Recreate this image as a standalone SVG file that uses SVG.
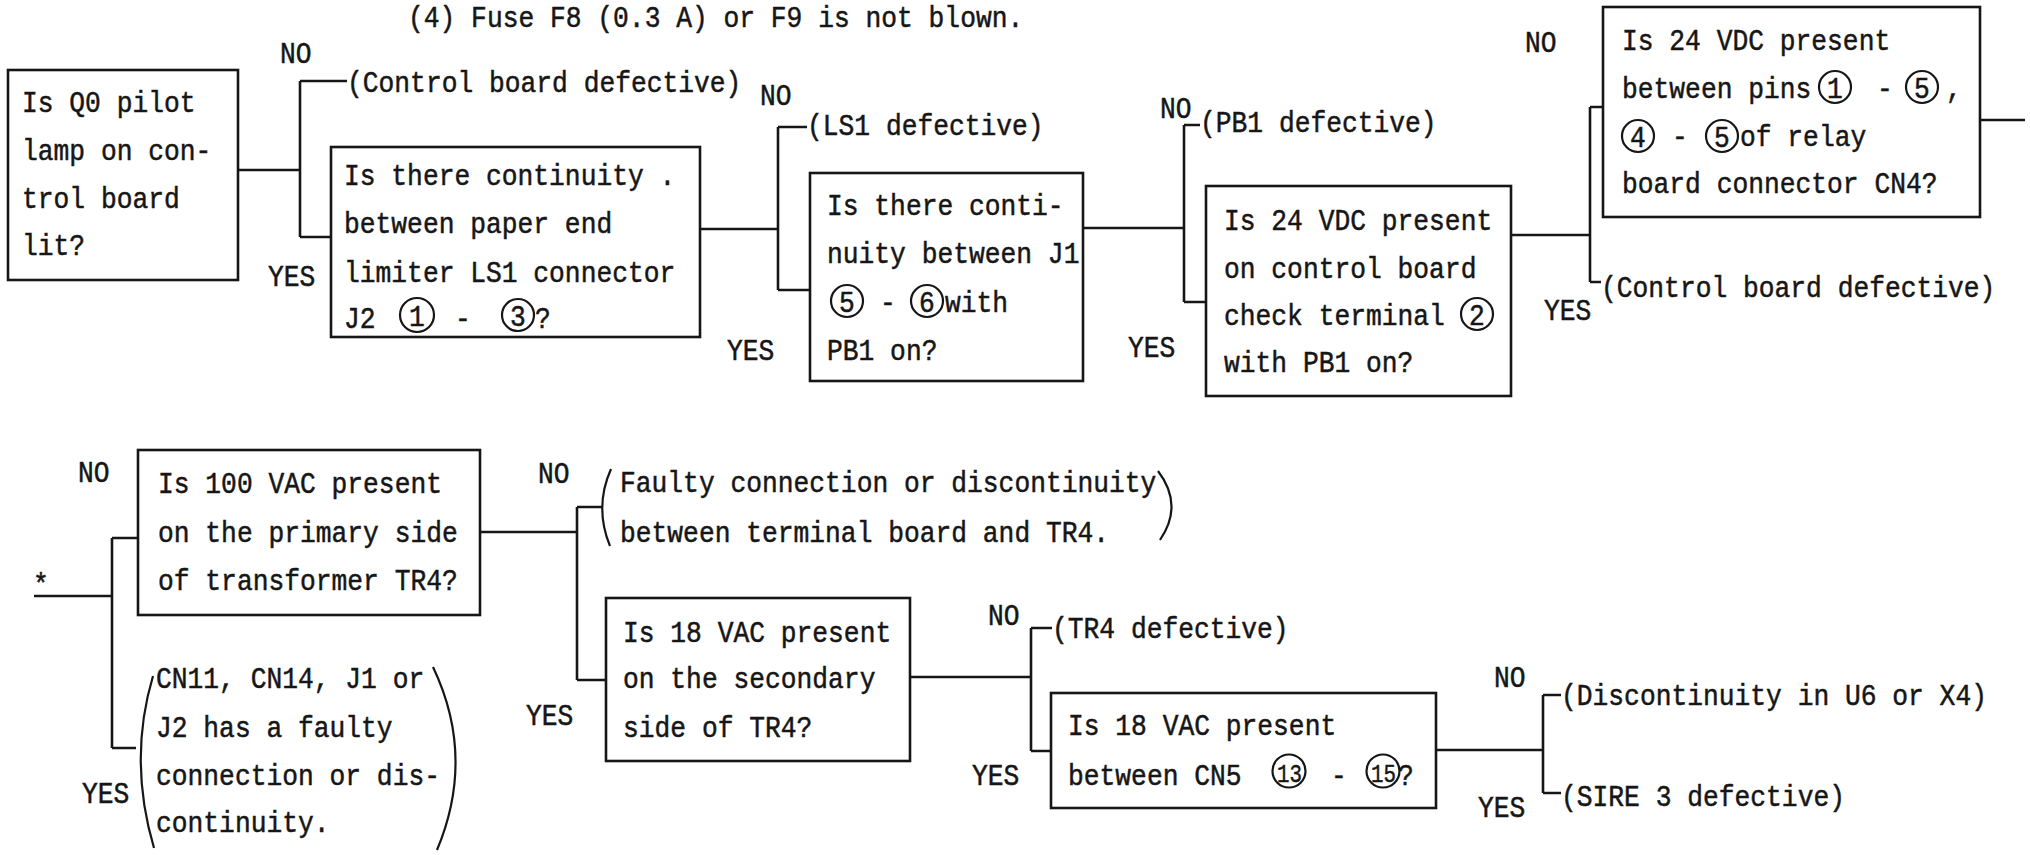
<svg xmlns="http://www.w3.org/2000/svg" width="2030" height="855" viewBox="0 0 2030 855">
<style>
text{font-family:"Liberation Mono","DejaVu Sans Mono",monospace;font-size:26.3px;fill:#161616;stroke:#161616;stroke-width:0.45}
.c{text-anchor:middle}
.n2{font-size:24px}
.b{fill:none;stroke:#161616;stroke-width:2.6}
.o{fill:none;stroke:#161616;stroke-width:2.2}
.l{fill:none;stroke:#161616;stroke-width:2.6}
</style>
<rect width="2030" height="855" fill="#ffffff"/>
<text transform="translate(408 27) scale(1 1.15)">(4) Fuse F8 (0.3 A) or F9 is not blown.</text>

<g id="connectors">
<path class="l" d="M238 170H300M300 81V237M300 81H347M300 237H331"/>
<path class="l" d="M700 229H778M778 127V290M778 127H807M778 290H810"/>
<path class="l" d="M1083 228H1184M1184 125V302M1184 125H1200M1184 302H1206"/>
<path class="l" d="M1511 235H1590M1590 107V282M1590 107H1603M1590 282H1601"/>
<path class="l" d="M1980 120H2025"/>
<path class="l" d="M34 596H112M112 538V748M112 538H138M112 748H136"/>
<path class="l" d="M480 532H577M577 507V680M577 507H602M577 680H606"/>
<path class="l" d="M910 677H1031M1031 628V751M1031 628H1052M1031 751H1051"/>
<path class="l" d="M1436 750H1543M1543 695V793M1543 695H1561M1543 793H1561"/>
</g>

<g id="labels">
<text transform="translate(280 63) scale(1 1.15)">NO</text>
<text transform="translate(268 286) scale(1 1.15)">YES</text>
<text transform="translate(760 105) scale(1 1.15)">NO</text>
<text transform="translate(727 360) scale(1 1.15)">YES</text>
<text transform="translate(1160 118) scale(1 1.15)">NO</text>
<text transform="translate(1128 357) scale(1 1.15)">YES</text>
<text transform="translate(1525 52) scale(1 1.15)">NO</text>
<text transform="translate(1544 320) scale(1 1.15)">YES</text>
<text transform="translate(78 482) scale(1 1.15)">NO</text>
<text transform="translate(82 803) scale(1 1.15)">YES</text>
<text transform="translate(538 483) scale(1 1.15)">NO</text>
<text transform="translate(526 725) scale(1 1.15)">YES</text>
<text transform="translate(988 625) scale(1 1.15)">NO</text>
<text transform="translate(972 785) scale(1 1.15)">YES</text>
<text transform="translate(1494 687) scale(1 1.15)">NO</text>
<text transform="translate(1478 817) scale(1 1.15)">YES</text>
<text transform="translate(33 594) scale(1 1.15)">*</text>
</g>

<g id="n1">
<rect class="b" x="8" y="70" width="230" height="210"/>
<text transform="translate(22 112) scale(1 1.15)">Is Q0 pilot</text>
<text transform="translate(22 160) scale(1 1.15)">lamp on con-</text>
<text transform="translate(22 208) scale(1 1.15)">trol board</text>
<text transform="translate(22 255) scale(1 1.15)">lit?</text>
</g>

<g id="r1"><text transform="translate(347 92) scale(1 1.15)">(Control board defective)</text></g>

<g id="n2">
<rect class="b" x="331" y="147" width="369" height="190"/>
<text transform="translate(344 185) scale(1 1.15)">Is there continuity .</text>
<text transform="translate(344 233) scale(1 1.15)">between paper end</text>
<text transform="translate(344 282) scale(1 1.15)">limiter LS1 connector</text>
<text transform="translate(344 328) scale(1 1.15)">J2</text>
<circle class="o" cx="417" cy="315" r="17"/><text class="c" transform="translate(417 326) scale(1 1.1)">1</text>
<text transform="translate(455 328) scale(1 1.15)">-</text>
<circle class="o" cx="518" cy="315" r="16"/><text class="c" transform="translate(518 326) scale(1 1.1)">3</text>
<text transform="translate(535 328) scale(1 1.15)">?</text>
</g>

<g id="r2"><text transform="translate(807 135) scale(1 1.15)">(LS1 defective)</text></g>

<g id="n3">
<rect class="b" x="810" y="173" width="273" height="208"/>
<text transform="translate(827 215) scale(1 1.15)">Is there conti-</text>
<text transform="translate(827 263) scale(1 1.15)">nuity between J1</text>
<circle class="o" cx="847" cy="301" r="16"/><text class="c" transform="translate(847 312) scale(1 1.1)">5</text>
<text transform="translate(880 312) scale(1 1.15)">-</text>
<circle class="o" cx="927" cy="301" r="16"/><text class="c" transform="translate(927 312) scale(1 1.1)">6</text>
<text transform="translate(945 312) scale(1 1.15)">with</text>
<text transform="translate(827 360) scale(1 1.15)">PB1 on?</text>
</g>

<g id="r3"><text transform="translate(1200 132) scale(1 1.15)">(PB1 defective)</text></g>

<g id="n4">
<rect class="b" x="1206" y="186" width="305" height="210"/>
<text transform="translate(1224 230) scale(1 1.15)">Is 24 VDC present</text>
<text transform="translate(1224 278) scale(1 1.15)">on control board</text>
<text transform="translate(1224 325) scale(1 1.15)">check terminal</text>
<circle class="o" cx="1477" cy="314" r="16"/><text class="c" transform="translate(1477 325) scale(1 1.1)">2</text>
<text transform="translate(1224 372) scale(1 1.15)">with PB1 on?</text>
</g>

<g id="n5">
<rect class="b" x="1603" y="7" width="377" height="210"/>
<text transform="translate(1622 50) scale(1 1.15)">Is 24 VDC present</text>
<text transform="translate(1622 98) scale(1 1.15)">between pins</text>
<circle class="o" cx="1835" cy="87" r="16"/><text class="c" transform="translate(1835 98) scale(1 1.1)">1</text>
<text transform="translate(1877 98) scale(1 1.15)">-</text>
<circle class="o" cx="1922" cy="87" r="16"/><text class="c" transform="translate(1922 98) scale(1 1.1)">5</text>
<text transform="translate(1946 98) scale(1 1.15)">,</text>
<circle class="o" cx="1638" cy="136" r="16"/><text class="c" transform="translate(1638 147) scale(1 1.1)">4</text>
<text transform="translate(1672 146) scale(1 1.15)">-</text>
<circle class="o" cx="1722" cy="136" r="16"/><text class="c" transform="translate(1722 147) scale(1 1.1)">5</text>
<text transform="translate(1740 146) scale(1 1.15)">of relay</text>
<text transform="translate(1622 193) scale(1 1.15)">board connector CN4?</text>
</g>

<g id="r4"><text transform="translate(1601 297) scale(1 1.15)">(Control board defective)</text></g>

<g id="n6">
<rect class="b" x="138" y="450" width="342" height="165"/>
<text transform="translate(158 493) scale(1 1.15)">Is 100 VAC present</text>
<text transform="translate(158 542) scale(1 1.15)">on the primary side</text>
<text transform="translate(158 590) scale(1 1.15)">of transformer TR4?</text>
</g>

<g id="r5">
<path class="o" d="M153 676Q128 760 154 848"/>
<path class="o" d="M433 667Q476 757 437 850"/>
<text transform="translate(156 688) scale(1 1.15)">CN11, CN14, J1 or</text>
<text transform="translate(156 737) scale(1 1.15)">J2 has a faulty</text>
<text transform="translate(156 785) scale(1 1.15)">connection or dis-</text>
<text transform="translate(156 832) scale(1 1.15)">continuity.</text>
</g>

<g id="r6">
<path class="o" d="M611 469Q594 507 610 546"/>
<path class="o" d="M1158 471Q1184 505 1160 540"/>
<text transform="translate(620 492) scale(1 1.15)">Faulty connection or discontinuity</text>
<text transform="translate(620 542) scale(1 1.15)">between terminal board and TR4.</text>
</g>

<g id="n7">
<rect class="b" x="606" y="598" width="304" height="163"/>
<text transform="translate(623 642) scale(1 1.15)">Is 18 VAC present</text>
<text transform="translate(623 688) scale(1 1.15)">on the secondary</text>
<text transform="translate(623 737) scale(1 1.15)">side of TR4?</text>
</g>

<g id="r7"><text transform="translate(1052 638) scale(1 1.15)">(TR4 defective)</text></g>

<g id="n8">
<rect class="b" x="1051" y="693" width="385" height="115"/>
<text transform="translate(1068 735) scale(1 1.15)">Is 18 VAC present</text>
<text transform="translate(1068 785) scale(1 1.15)">between CN5</text>
<circle class="o" cx="1289" cy="771" r="16.5"/><text class="n2" transform="translate(1277 782) scale(1 1.1)" textLength="25" lengthAdjust="spacingAndGlyphs">13</text>
<text transform="translate(1331 785) scale(1 1.15)">-</text>
<circle class="o" cx="1383" cy="771" r="16.5"/><text class="n2" transform="translate(1371 782) scale(1 1.1)" textLength="25" lengthAdjust="spacingAndGlyphs">15</text>
<text transform="translate(1398 785) scale(1 1.15)">?</text>
</g>

<g id="r8"><text transform="translate(1561 705) scale(1 1.15)">(Discontinuity in U6 or X4)</text></g>
<g id="r9"><text transform="translate(1561 806) scale(1 1.15)">(SIRE 3 defective)</text></g>
</svg>
